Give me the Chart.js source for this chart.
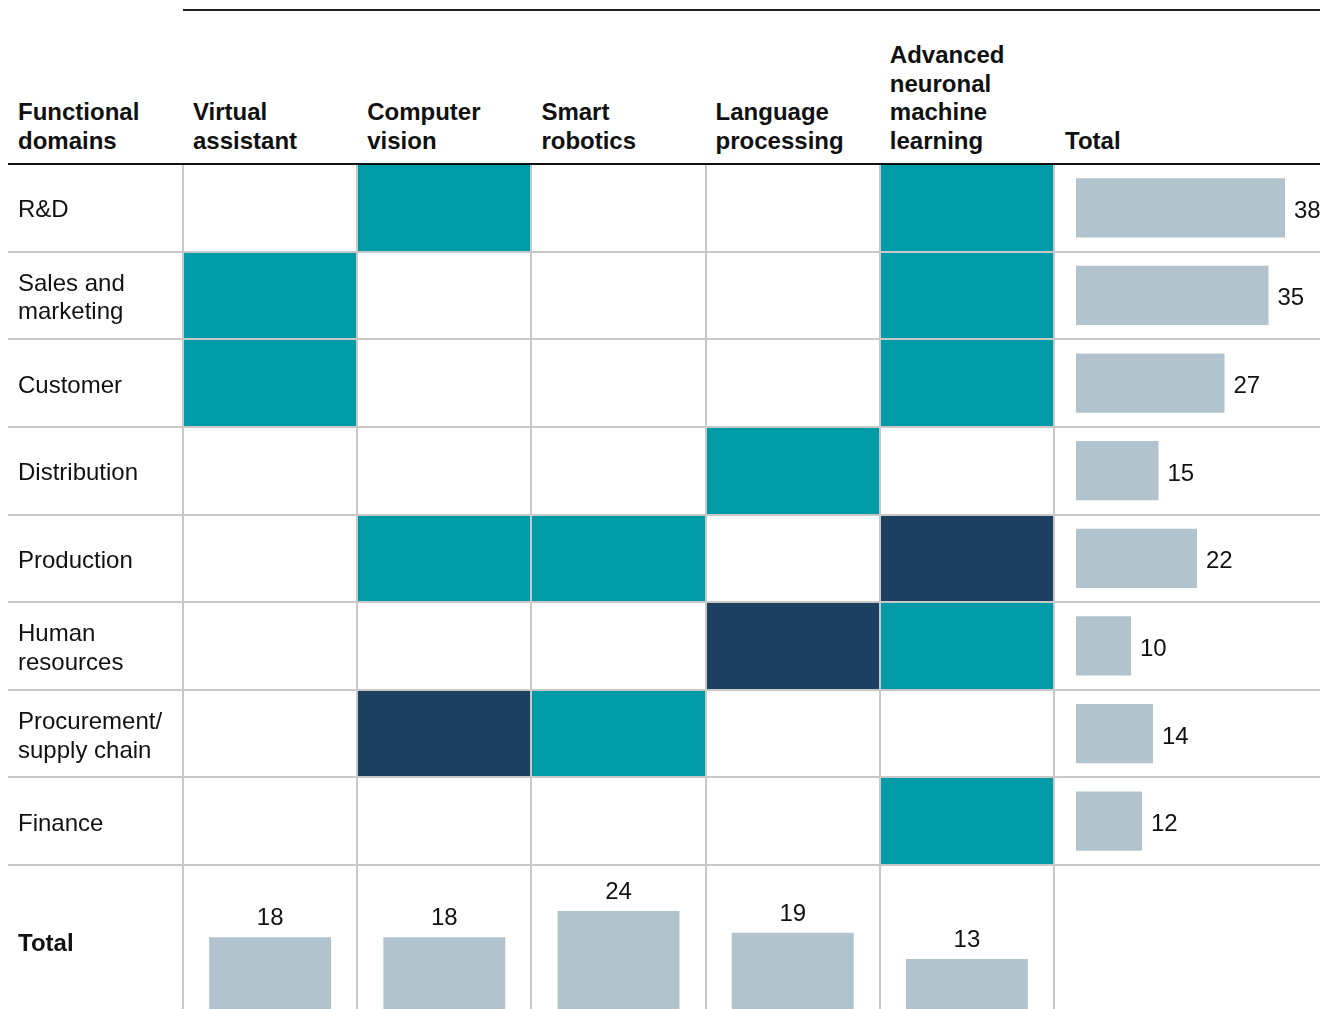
<!DOCTYPE html>
<html>
<head>
<meta charset="utf-8">
<title>AI use cases by functional domain</title>
<script src="https://cdn.jsdelivr.net/npm/chart.js@4.4.1/dist/chart.umd.min.js"></script>
<style>
  html, body { margin: 0; padding: 0; background: #fff; }
  body {
    width: 1320px; height: 1009px; overflow: hidden; position: relative;
    font-family: "Liberation Sans", Arial, sans-serif; color: #111;
  }
  .rule-top { position: absolute; left: 183px; top: 9px; width: 1137px; height: 2px; background: #222; }
  #header { position: absolute; left: 0; top: 0; width: 1320px; height: 156px; }
  .head {
    position: absolute; bottom: 0; font-weight: bold; font-size: 24px;
    line-height: 28.8px; white-space: nowrap;
  }
  .total-label {
    position: absolute; left: 18px; top: 929px; font-weight: bold;
    font-size: 24px; line-height: 28.8px;
  }
  canvas { position: absolute; left: 0; }
  #grid { top: 0; }
  #colTotals { top: 865px; }
</style>
</head>
<body>
<div class="rule-top"></div>
<div id="header"></div>
<canvas id="grid" width="1320" height="867"></canvas>
<canvas id="colTotals" width="1320" height="144"></canvas>
<div class="total-label">Total</div>

<script>
// --- data -------------------------------------------------------------
const rowLabels = [
    'R&D',
    ['Sales and', 'marketing'],
    'Customer',
    'Distribution',
    'Production',
    ['Human', 'resources'],
    ['Procurement/', 'supply chain'],
    'Finance'
];

const columnLabels = [
    ['Virtual', 'assistant'],
    ['Computer', 'vision'],
    ['Smart', 'robotics'],
    ['Language', 'processing'],
    ['Advanced', 'neuronal', 'machine', 'learning']
];

// cell level per row: 0 = none, 1 = teal, 2 = dark blue
const virtualAssistant = [0, 1, 1, 0, 0, 0, 0, 0];
const computerVision   = [1, 0, 0, 0, 1, 0, 2, 0];
const smartRobotics    = [0, 0, 0, 0, 1, 0, 1, 0];
const languageProc     = [0, 0, 0, 1, 0, 2, 0, 0];
const neuronalML       = [1, 1, 1, 0, 2, 1, 0, 1];

const rowTotals = [38, 35, 27, 15, 22, 10, 14, 12];
const columnTotals = [18, 18, 24, 19, 13];

// --- style ------------------------------------------------------------
const TEAL = '#009ba6';
const NAVY = '#1d4060';
const BAR_GREY = '#b1c3cd';
const LINE_GREY = '#c8c8c8';
const TEXT = '#111';
const FONT_FAMILY = '"Liberation Sans", Arial, sans-serif';

const levelColors = ['rgba(0,0,0,0)', TEAL, NAVY];
const cellColumns = [virtualAssistant, computerVision, smartRobotics, languageProc, neuronalML];

// shared horizontal layout: column -1 is the label column
const X_MIN = -1.005;
const X_MAX = 6.527;

Chart.defaults.font.family = FONT_FAMILY;
Chart.defaults.color = TEXT;
Chart.defaults.animation = false;

// --- header text -------------------------------------------------------
const header = document.getElementById('header');
const colWidth = 871 / 5;
function addHead(lines, left) {
    const div = document.createElement('div');
    div.className = 'head';
    div.style.left = left + 'px';
    div.innerHTML = lines.join('<br>');
    header.appendChild(div);
}
addHead(['Functional', 'domains'], 18);
columnLabels.forEach((lines, i) => addHead(lines, 183 + i * colWidth + 10));
addHead(['Total'], 1065);

// --- helpers -----------------------------------------------------------
function columnGridColor(ctx) {
    const v = ctx.tick ? ctx.tick.value : NaN;
    return v >= 0 && v <= 5 ? LINE_GREY : 'rgba(0,0,0,0)';
}

function sharedX(z) {
    return {
        type: 'linear',
        min: X_MIN,
        max: X_MAX,
        offset: false,
        ticks: { display: false },
        afterBuildTicks: scale => {
            scale.ticks = columnLabels.map((_, i) => ({ value: i })).concat([{ value: 5 }]);
        },
        afterFit: scale => {
            scale.height = 0;
            scale.paddingLeft = 0;
            scale.paddingRight = 0;
        },
        grid: { color: columnGridColor, lineWidth: 2, drawTicks: false, offset: false, z: z },
        border: { display: false }
    };
}

const rowValueLabels = {
    id: 'rowValueLabels',
    afterDraw(chart) {
        const meta = chart.getDatasetMeta(cellColumns.length);
        const ctx = chart.ctx;
        ctx.save();
        ctx.font = '24px ' + FONT_FAMILY;
        ctx.fillStyle = TEXT;
        ctx.textAlign = 'left';
        ctx.textBaseline = 'alphabetic';
        meta.data.forEach((bar, i) => {
            ctx.fillText(String(rowTotals[i]), bar.x + 9, bar.y + 10);
        });
        ctx.restore();
    }
};

const columnValueLabels = {
    id: 'columnValueLabels',
    afterDatasetsDraw(chart) {
        const meta = chart.getDatasetMeta(0);
        const ctx = chart.ctx;
        ctx.save();
        ctx.font = '24px ' + FONT_FAMILY;
        ctx.fillStyle = TEXT;
        ctx.textAlign = 'center';
        ctx.textBaseline = 'alphabetic';
        meta.data.forEach((bar, i) => {
            ctx.fillText(String(columnTotals[i]), bar.x, bar.y - 12);
        });
        ctx.restore();
    }
};

// --- matrix + row totals ------------------------------------------------
const cellDatasets = cellColumns.map((levels, c) => ({
    data: levels.map(l => (l ? [c, c + 1] : null)),
    backgroundColor: levels.map(l => levelColors[l]),
    xAxisID: 'x',
    grouped: false,
    categoryPercentage: 1,
    barPercentage: 1,
    borderWidth: 0
}));

new Chart(document.getElementById('grid'), {
    type: 'bar',
    data: {
        labels: rowLabels,
        datasets: [
            ...cellDatasets,
            {
                data: rowTotals,
                backgroundColor: BAR_GREY,
                xAxisID: 'x2',
                grouped: false,
                categoryPercentage: 1,
                barPercentage: 0.675
            }
        ]
    },
    options: {
        indexAxis: 'y',
        responsive: false,
        events: [],
        layout: { padding: { top: 164, left: 8, right: 0, bottom: 2 } },
        scales: {
            x: sharedX(1),
            x2: {
                type: 'linear',
                display: false,
                min: -1068 / 5.5,
                max: 244 / 5.5
            },
            y: {
                type: 'category',
                offset: true,
                afterFit: scale => {
                    scale.width = 0;
                    scale.paddingTop = 0;
                    scale.paddingBottom = 0;
                },
                grid: {
                    offset: true,
                    drawTicks: false,
                    lineWidth: 2,
                    z: 1,
                    color: ctx => (ctx.index === 0 ? '#111' : LINE_GREY)
                },
                border: { display: false },
                ticks: {
                    mirror: true,
                    padding: 10,
                    labelOffset: 3,
                    color: TEXT,
                    font: { size: 24, lineHeight: 1.2 }
                }
            }
        },
        plugins: {
            legend: { display: false },
            tooltip: { enabled: false }
        }
    },
    plugins: [rowValueLabels]
});

// --- column totals -----------------------------------------------------
new Chart(document.getElementById('colTotals'), {
    type: 'bar',
    data: {
        datasets: [{
            data: columnTotals.map((v, c) => ({ x: c + 0.5, y: v })),
            backgroundColor: BAR_GREY,
            categoryPercentage: 1,
            barPercentage: 0.7
        }]
    },
    options: {
        responsive: false,
        events: [],
        layout: { padding: { top: 0, left: 8, right: 0, bottom: 0 } },
        scales: {
            x: sharedX(0),
            y: { type: 'linear', display: false, min: 1.54, max: 34.56 }
        },
        plugins: {
            legend: { display: false },
            tooltip: { enabled: false }
        }
    },
    plugins: [columnValueLabels]
});
</script>
</body>
</html>
